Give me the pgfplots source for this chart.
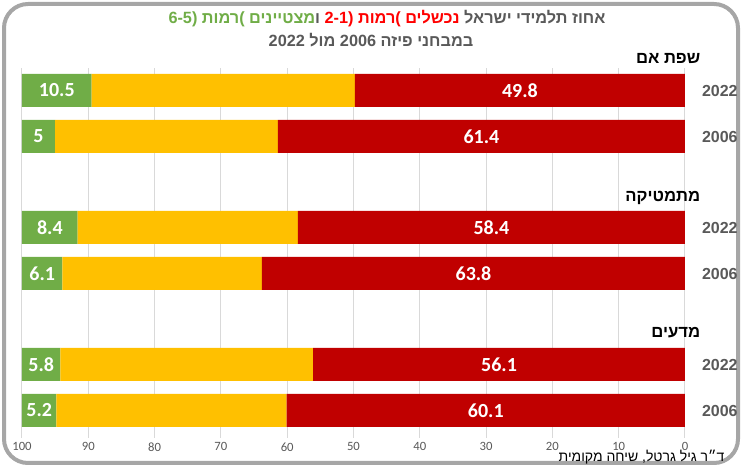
\documentclass[border=0pt]{standalone}
\usepackage{pgfplots}
\pgfplotsset{compat=1.18}
\usepackage{pgfplotstable}
\usepackage{fontspec}
\setmainfont{Liberation Sans}
\newfontfamily\heb[Script=Hebrew]{Liberation Sans}
\newfontfamily\carlito{Carlito}
\TeXXeTstate=1
\definecolor{cgreen}{HTML}{70AD47}
\definecolor{cyellow}{HTML}{FFC000}
\definecolor{cred}{HTML}{C00000}
\definecolor{tred}{HTML}{FF0000}
\definecolor{tgray}{HTML}{595959}
\definecolor{gridc}{HTML}{D9D9D9}
\definecolor{framec}{HTML}{A6A6A6}

\pgfplotstableread{
y red yellow green
-90.5 49.8 39.7 10.5
-136.5 61.4 33.6 5
-227.5 58.4 33.2 8.4
-273.5 63.8 30.1 6.1
-364.5 56.1 38.1 5.8
-410.5 60.1 34.7 5.2
}\bars

\pgfplotstableread{
x y lab
24.9 -90.5 49.8
30.7 -136.5 61.4
29.2 -227.5 58.4
31.9 -273.5 63.8
28.05 -364.5 56.1
30.05 -410.5 60.1
94.75 -90.5 10.5
97.5 -136.5 5
95.8 -227.5 8.4
96.95 -273.5 6.1
97.1 -364.5 5.8
97.4 -410.5 5.2
}\labels

\pgfplotsset{myax/.style={
  scale only axis, width=497.25pt, height=273pt,
  at={(16.5pt,27pt)}, anchor=south west,
  xmin=0, xmax=100, ymin=-432, ymax=-68, x dir=reverse,
}}

\newcommand{\R}[1]{\beginR #1\endR}

\begin{document}
\begin{tikzpicture}
\path[use as bounding box] (0,0) rectangle (558pt,351pt);
\draw[framec, line width=3pt, rounded corners=18pt] (3pt,3.75pt) rectangle (553.5pt,348pt);

\begin{axis}[myax, xbar stacked, bar width=24.75pt,
  axis line style={draw=none},
  xtick={0,10,...,100}, xtick pos=bottom, tick align=outside,
  xmajorgrids, grid style={gridc, line width=0.75pt},
  major tick length=4.5pt, x tick style={gridc, line width=0.75pt},
  ytick={-410.5,-364.5,-273.5,-227.5,-136.5,-90.5},
  yticklabels={\textbf{2006},\textbf{2022},\textbf{2006},\textbf{2022},\textbf{2006},\textbf{2022}},
  yticklabel pos=right, y tick style={draw=none},
  yticklabel style={font=\bfseries\fontsize{12}{14}\selectfont, text=tgray, anchor=west, xshift=4.75pt},
  xticklabel style={font=\carlito\fontsize{9.5}{10}\selectfont, text=tgray},
  /pgf/number format/assume math mode=true,
]
\addplot[fill=cred, draw=none] table[x=red, y=y] \bars;
\addplot[fill=cyellow, draw=none] table[x=yellow, y=y] \bars;
\addplot[fill=cgreen, draw=none] table[x=green, y=y] \bars;
\end{axis}

\begin{axis}[myax, hide axis]
\addplot[draw=none, mark=none, nodes near coords, point meta=explicit symbolic,
  every node near coord/.append style={anchor=center, text=white, font=\carlito\bfseries\fontsize{15}{16}\selectfont, inner sep=0pt}]
  table[x=x, y=y, meta=lab] \labels;
\end{axis}

\node[font=\heb\bfseries\fontsize{12.2}{14}\selectfont, text=tgray] at (290.25pt,336.75pt)
 {{\color{cgreen}(6-5 \R{רמות}) \R{מצטיינים}}\R{ו} {\color{tred}(2-1 \R{רמות}) \R{נכשלים}} \R{אחוז תלמידי ישראל}};
\node[font=\heb\bfseries\fontsize{12.2}{14}\selectfont, text=tgray] at (278.25pt,321pt)
 {\beginR במבחני פיזה \beginL 2006\endL{} מול \beginL 2022\endL\endR};

\node[font=\heb\bfseries\fontsize{12.5}{14}\selectfont, anchor=east] at (528.75pt,307.5pt) {\beginR שפת אם\endR};
\node[font=\heb\bfseries\fontsize{12.5}{14}\selectfont, anchor=east] at (528.75pt,202.5pt) {\beginR מתמטיקה\endR};
\node[font=\heb\bfseries\fontsize{12.5}{14}\selectfont, anchor=east] at (528.75pt,101.25pt) {\beginR מדעים\endR};

\node[font=\heb\fontsize{10.5}{12}\selectfont, anchor=east, inner sep=1pt] at (544.5pt,8.5pt) {\beginR ד״ר גיל גרטל, שיחה מקומית\endR};
\end{tikzpicture}
\end{document}
